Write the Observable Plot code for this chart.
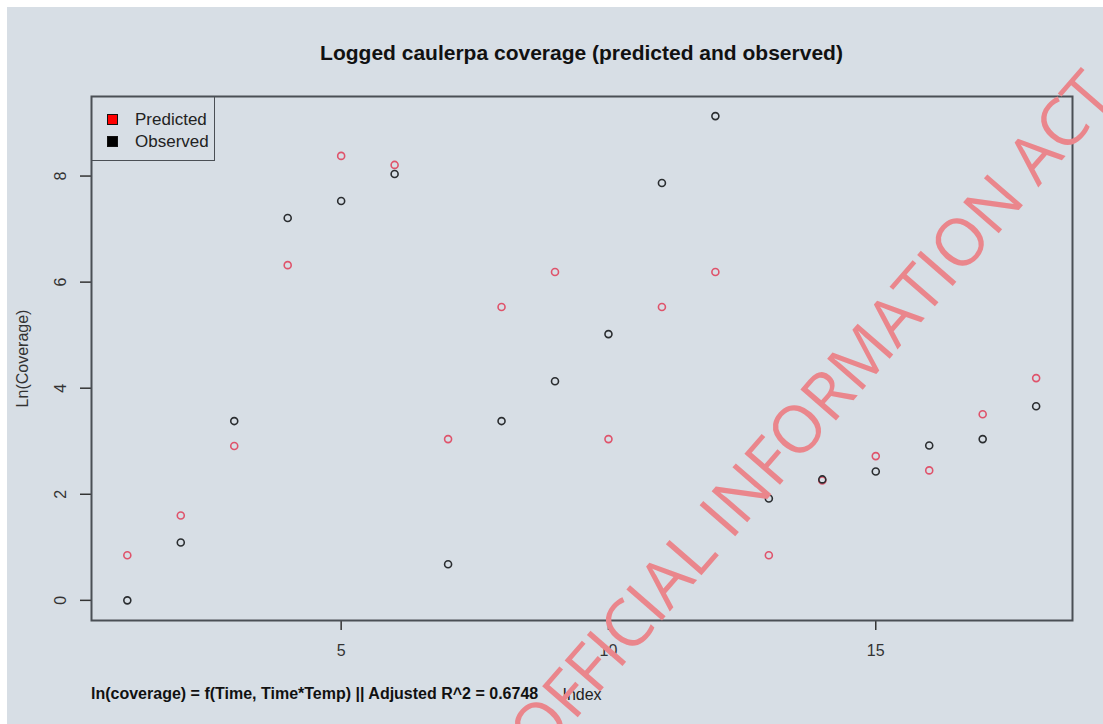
<!DOCTYPE html>
<html><head><meta charset="utf-8">
<script src="https://cdn.jsdelivr.net/npm/d3@7"></script>
<script src="https://cdn.jsdelivr.net/npm/@observablehq/plot@0.6"></script>
<style>
body{margin:0;background:#fff;width:1103px;height:724px;overflow:hidden;position:relative;font-family:"Liberation Sans",Arial,sans-serif;}
#panel{position:absolute;left:7px;top:7px;width:1096px;height:717px;background:#d7dee5;}
#title{position:absolute;left:84px;width:981px;top:33px;line-height:26px;text-align:center;font-size:21px;font-weight:bold;color:#111;}
#caption{position:absolute;left:84px;top:677px;line-height:20px;font-size:16px;font-weight:bold;color:#111;white-space:nowrap;}
#legend{position:absolute;left:84px;top:89px;width:122px;height:63px;border:1.5px solid #4a4f55;}
.li{position:absolute;left:43px;font-size:17px;line-height:19px;color:#222;white-space:nowrap;}
.sw{position:absolute;left:15px;width:9px;height:9px;border:1px solid #111;}
#wm{position:absolute;left:0;top:0;pointer-events:none;}
</style></head>
<body>
<div id="panel">
  <div id="title">Logged caulerpa coverage (predicted and observed)</div>
  <div id="chart"></div>
  <div id="legend">
    <div class="sw" style="top:17px;background:#ff0000"></div><div class="li" style="top:13px">Predicted</div>
    <div class="sw" style="top:39px;background:#000"></div><div class="li" style="top:35px">Observed</div>
  </div>
  <div id="caption">ln(coverage) = f(Time, Time*Temp) || Adjusted R^2 = 0.6748</div>
</div>
<svg id="wm" width="1103" height="724"><text id="wmt" font-family="Open Sans" font-size="66" font-weight="500" fill="#ea868c">RELEASED UNDER THE OFFICIAL INFORMATION ACT 1982</text></svg>
<script>
const predicted = [0.85,1.60,2.91,6.32,8.38,8.21,3.04,5.53,6.19,3.04,5.53,6.19,0.85,2.26,2.72,2.45,3.51,4.19];
const observed  = [0.00,1.09,3.38,7.21,7.53,8.04,0.68,3.38,4.13,5.02,7.87,9.13,1.92,2.28,2.43,2.92,3.04,3.66];
const xTicks = [5,10,15];
const yTicks = [0,2,4,6,8];

const predRows = predicted.map((v,i)=>({index:i+1,value:v}));
const obsRows = observed.map((v,i)=>({index:i+1,value:v}));

const chart = Plot.plot({
  width:1096, height:717,
  marginLeft:84, marginRight:31, marginTop:89, marginBottom:104,
  style:{background:"transparent",fontFamily:"Liberation Sans, Arial, sans-serif",overflow:"visible"},
  x:{domain:[0.33,18.68],axis:null},
  y:{domain:[-0.38,9.5],axis:null},
  marks:[
    Plot.axisX({ticks:xTicks,tickSize:10,tickFormat:()=>"",label:null,stroke:"#333",strokeWidth:1.5}),
    Plot.axisY({ticks:yTicks,tickSize:11,tickFormat:()=>"",label:null,stroke:"#333",strokeWidth:1.5}),
    Plot.text(xTicks,{x:d=>d,text:d=>String(d),frameAnchor:"bottom",dy:35,fontSize:16,fill:"#333"}),
    Plot.text(yTicks,{y:d=>d,text:d=>String(d),frameAnchor:"left",textAnchor:"middle",dx:-31,rotate:-90,fontSize:16,fill:"#333"}),
    Plot.text(["Ln(Coverage)"],{frameAnchor:"left",textAnchor:"middle",dx:-69,rotate:-90,fontSize:16,fill:"#333"}),
    Plot.text(["Index"],{frameAnchor:"bottom",dy:79,fontSize:16,fill:"#222"}),
    Plot.dot(predRows,{x:"index",y:"value",r:3.5,stroke:"#df536b",strokeWidth:1.6}),
    Plot.dot(obsRows,{x:"index",y:"value",r:3.5,stroke:"#2a2d30",strokeWidth:1.6}),
    Plot.frame({stroke:"#4a4f55",strokeWidth:2})
  ]
});
document.getElementById("chart").appendChild(chart);

const t = document.getElementById("wmt");
const s = t.textContent;
const idx = s.indexOf("INFORMATION");
const sx = t.getStartPositionOfChar(idx).x;
t.setAttribute("transform",`translate(731,541) rotate(-49) translate(${-sx},0)`);
</script>
</body></html>
